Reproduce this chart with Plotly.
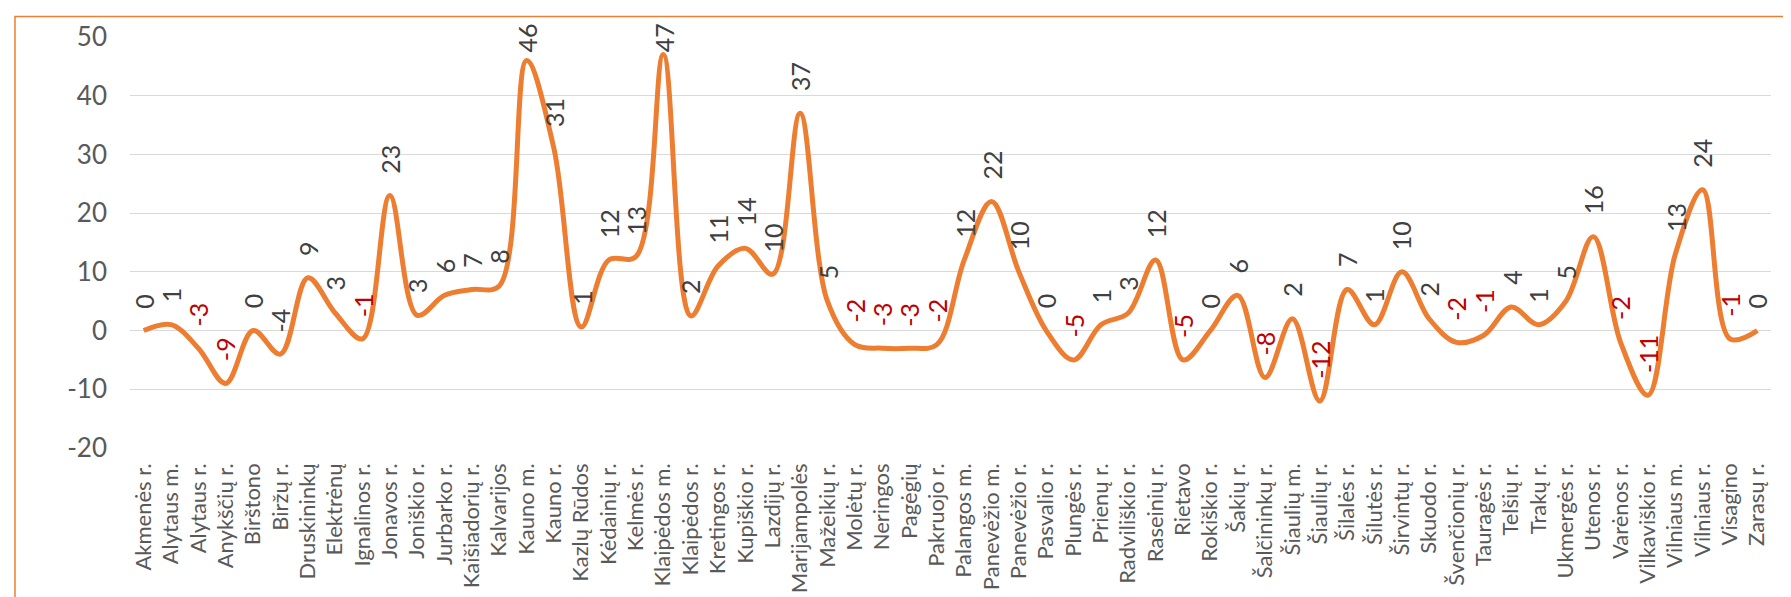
import plotly.graph_objects as go

categories = [
    "Akmenės r.", "Alytaus m.", "Alytaus r.", "Anykščių r.", "Birštono", "Biržų r.",
    "Druskininkų", "Elektrėnų", "Ignalinos r.", "Jonavos r.", "Joniškio r.", "Jurbarko r.",
    "Kaišiadorių r.", "Kalvarijos", "Kauno m.", "Kauno r.", "Kazlų Rūdos", "Kėdainių r.",
    "Kelmės r.", "Klaipėdos m.", "Klaipėdos r.", "Kretingos r.", "Kupiškio r.", "Lazdijų r.",
    "Marijampolės", "Mažeikių r.", "Molėtų r.", "Neringos", "Pagėgių", "Pakruojo r.",
    "Palangos m.", "Panevėžio m.", "Panevėžio r.", "Pasvalio r.", "Plungės r.", "Prienų r.",
    "Radviliškio r.", "Raseinių r.", "Rietavo", "Rokiškio r.", "Šakių r.", "Šalčininkų r.",
    "Šiaulių m.", "Šiaulių r.", "Šilalės r.", "Šilutės r.", "Širvintų r.", "Skuodo r.",
    "Švenčionių r.", "Tauragės r.", "Telšių r.", "Trakų r.", "Ukmergės r.", "Utenos r.",
    "Varėnos r.", "Vilkaviškio r.", "Vilniaus m.", "Vilniaus r.", "Visagino", "Zarasų r.",
]

values = [
    0, 1, -3, -9, 0, -4,
    9, 3, -1.4, 23, 2.6, 6,
    7, 7.6, 46, 31, 0.6, 12,
    12.6, 47, 2.5, 11, 14, 9.6,
    37, 5, -2.4, -3, -3, -2.4,
    12, 22, 10, 0, -5, 1,
    3, 12, -5, 0, 6, -8,
    2, -12, 7, 1, 10, 2,
    -2, -0.8, 4, 1, 5, 16,
    -2, -11, 13, 24, -1.4, 0,
]

y_ticks = [-20, -10, 0, 10, 20, 30, 40, 50]
y_tick_labels = ["-20", "-10", "0", "10", "20", "30", "40", "50"]

# data labels drawn in dark grey rather than red although negative
grey_negative_labels = ["Biržų r."]

LINE = "#ED7D31"
TXT = "#404040"
RED = "#C00000"
FONT = "Lato"
LABEL_SIZE = 25

W, H = 1791, 597
ml, mr, mt, mb = 122, 28, 28, 150
pw, ph = W - ml - mr, H - mt - mb
Y_MIN, Y_MAX = -20, 50


def px_x(px):
    return (px - ml) / pw


def px_y(py):
    return 1 - (py - mt) / ph


def value_to_px(v):
    return mt + (Y_MAX - v) * ph / (Y_MAX - Y_MIN)


fig = go.Figure()
fig.add_trace(go.Scatter(
    x=categories, y=values, mode="lines",
    line=dict(color=LINE, width=5, shape="spline", smoothing=1.0),
    hoverinfo="x+y", showlegend=False,
))

GAP = 20
TOP_LIMIT = 12
for c, v in zip(categories, values):
    lab = str(int(round(v)))
    col = RED if (v < 0 and c not in grey_negative_labels) else TXT
    est_len = 0.6 * LABEL_SIZE * len(lab) + 2
    top_px = value_to_px(v) - GAP - est_len
    if top_px < TOP_LIMIT:
        # label pushed down to stay inside the chart, as Excel does
        fig.add_annotation(
            x=c, y=px_y(TOP_LIMIT), xref="x", yref="paper", text=lab, showarrow=False,
            textangle=-90, yanchor="top", xanchor="center",
            font=dict(family=FONT, size=LABEL_SIZE, color=col),
        )
    else:
        fig.add_annotation(
            x=c, y=v, xref="x", yref="y", text=lab, showarrow=False,
            textangle=-90, yanchor="bottom", xanchor="center", yshift=GAP,
            font=dict(family=FONT, size=LABEL_SIZE, color=col),
        )

fig.add_shape(
    type="rect", xref="paper", yref="paper",
    x0=px_x(7), x1=px_x(W + 20), y0=px_y(H + 20), y1=px_y(7),
    line=dict(color=LINE, width=1.5), fillcolor="rgba(0,0,0,0)", layer="below",
)

fig.update_layout(
    width=W, height=H,
    margin=dict(l=ml, r=mr, t=mt, b=mb, pad=0),
    paper_bgcolor="white", plot_bgcolor="white",
    font=dict(family=FONT, color="#595959"),
    xaxis=dict(
        type="category", range=[-0.5, len(categories) - 0.5],
        tickangle=-90, tickfont=dict(family=FONT, size=22, color="#595959"),
        showgrid=False, showline=False, zeroline=False, ticks="",
        ticklabelstandoff=10,
    ),
    yaxis=dict(
        range=[Y_MIN, Y_MAX], tickmode="array", tickvals=y_ticks, ticktext=y_tick_labels,
        tickfont=dict(family=FONT, size=26, color="#595959"),
        showgrid=True, gridcolor="#D9D9D9", gridwidth=1.3,
        zeroline=False, showline=False, ticks="", ticklabelstandoff=22,
    ),
)

fig.write_html("out.html")
